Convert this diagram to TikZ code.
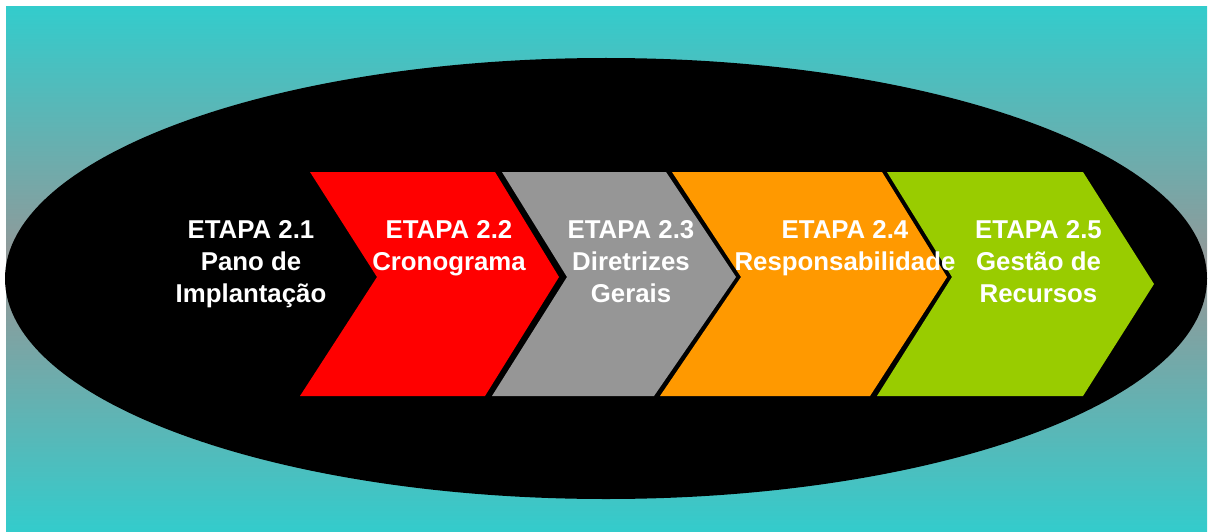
\documentclass[tikz,border=0pt]{standalone}
\usepackage{fontspec}
\setmainfont{Liberation Sans}
\definecolor{teal1}{HTML}{33CCCC}
\definecolor{midgray}{HTML}{969696}
\definecolor{stepred}{HTML}{FF0000}
\definecolor{stepgray}{HTML}{969696}
\definecolor{steporange}{HTML}{FF9900}
\definecolor{stepgreen}{HTML}{99CC00}
% teal at both edges, gray across the middle (25bp..75bp spans the filled box)
\pgfdeclareverticalshading{backdrop}{100bp}{color(0bp)=(teal1); color(25bp)=(teal1); color(50bp)=(midgray); color(75bp)=(teal1); color(100bp)=(teal1)}
\tikzset{
  label text/.style={text=white, align=center, inner sep=0pt, anchor=north,
    font=\fontsize{25.8}{32.2}\selectfont\bfseries},
}
\begin{document}
\begin{tikzpicture}[x=1pt,y=-1pt]
  \useasboundingbox (0,0) rectangle (1209,532);
  % backdrop with vertical teal-gray-teal gradient
  \shade[shading=backdrop] (6,7) rectangle (1207,532);
  % black oval
  \fill[black] (606,278.5) ellipse [x radius=601pt, y radius=220.5pt];
  % chevrons
  \fill[stepred]    (310,172) -- (495,172) -- (559,277) -- (485,396) -- (300,396) -- (377,277) -- cycle;
  \fill[stepgray]   (502,172) -- (666,172) -- (736,277) -- (654,396) -- (492,396) -- (567,277) -- cycle;
  \fill[steporange] (672,172) -- (882,172) -- (947,277) -- (870,396) -- (660,396) -- (741,277) -- cycle;
  \fill[stepgreen]  (887,172) -- (1083,172) -- (1154,284) -- (1083,396) -- (877,396) -- (952,277) -- cycle;
  % stage labels
  \node[label text] (s1) at (251,220.3) {ETAPA 2.1\\Pano de\\Implantação};
  \node[label text] (s2) at (449,220.3) {ETAPA 2.2\\Cronograma};
  \node[label text] (s3) at (631,220.3) {ETAPA 2.3\\Diretrizes\\Gerais};
  \node[label text] (s4) at (845,220.3) {ETAPA 2.4\\Responsabilidade};
  \node[label text] (s5) at (1038.5,220.3) {ETAPA 2.5\\Gestão de\\Recursos};
\end{tikzpicture}
\end{document}
